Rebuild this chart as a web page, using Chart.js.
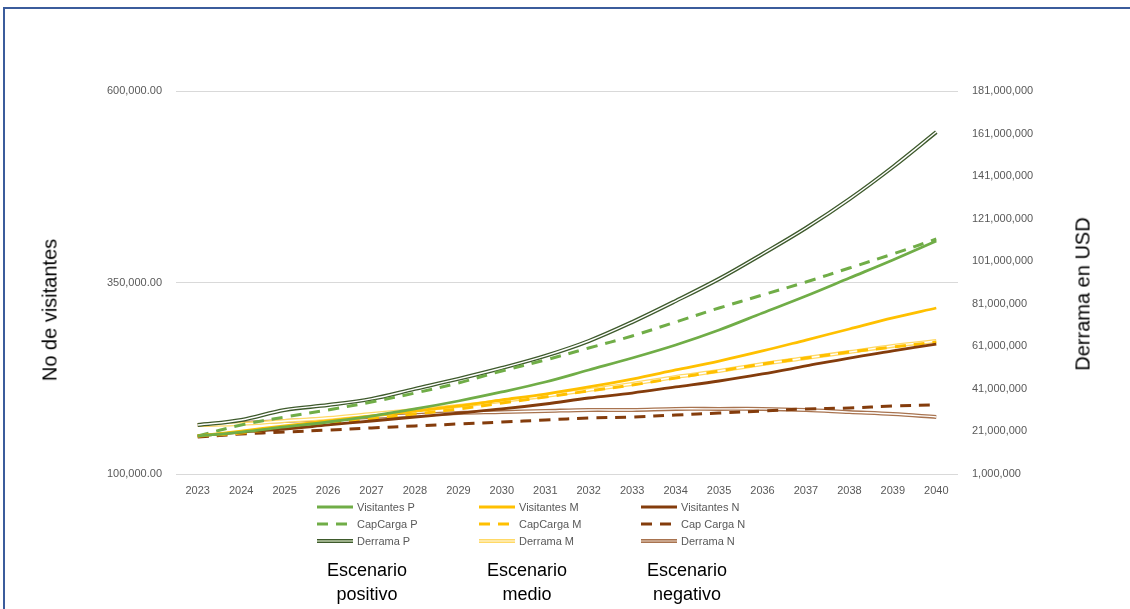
<!DOCTYPE html>
<html>
<head>
<meta charset="utf-8">
<script src="https://cdn.jsdelivr.net/npm/chart.js@4.4.1/dist/chart.umd.min.js"></script>
<style>
  body { margin: 0; background: #fff; font-family: "Liberation Sans", Arial, sans-serif; }
  #wrap { position: relative; width: 1130px; height: 609px; overflow: hidden; }
  #frame { position: absolute; left: 3px; top: 7px; width: 1200px; height: 700px;
           border-top: 2px solid #3B5C9C; border-left: 2px solid #3B5C9C; }
  canvas { position: absolute; left: 0; top: 0; }
  .ytitle { position: absolute; font-size: 20px; color: #000; white-space: nowrap;
            transform: translate(-50%, -50%) rotate(-90deg); }
  .scen { position: absolute; top: 558px; width: 140px; margin-left: -70px; text-align: center;
          font-size: 18px; line-height: 24px; color: #000; }
</style>
</head>
<body>
<div id="wrap">
  <div id="frame"></div>
  <canvas id="chart" width="1130" height="609"></canvas>
  <div class="ytitle" style="left:50px; top:310px;">No de visitantes</div>
  <div class="ytitle" style="left:1083px; top:294px;">Derrama en USD</div>
  <div class="scen" style="left:367px;">Escenario<br>positivo</div>
  <div class="scen" style="left:527px;">Escenario<br>medio</div>
  <div class="scen" style="left:687px;">Escenario<br>negativo</div>
</div>
<script>
const years = ['2023', '2024', '2025', '2026', '2027', '2028', '2029', '2030', '2031',
               '2032', '2033', '2034', '2035', '2036', '2037', '2038', '2039', '2040'];

// visitantes / capacidad de carga (eje izquierdo)
const visitantesP = [149600, 154800, 161400, 167900, 175700, 184900, 195300, 207100, 220100,
                     235800, 251400, 268400, 288000, 310200, 332400, 355900, 379400, 404200];
const capCargaP   = [149600, 164000, 174400, 183600, 194000, 205700, 218800, 234500, 248800,
                     264500, 280200, 298400, 316700, 333700, 350700, 368900, 387200, 406800];
const visitantesM = [149600, 156100, 162700, 169200, 175700, 182200, 188800, 196600, 204400,
                     213600, 224000, 235800, 247500, 260600, 274900, 289300, 303700, 316700];
const capCargaM   = [149600, 153500, 160100, 166600, 171800, 178300, 184900, 192700, 200500,
                     208400, 216200, 225300, 234500, 243600, 251400, 259300, 265800, 272300];
const visitantesN = [149600, 154800, 158700, 164000, 169200, 174400, 179600, 184900, 191400,
                     199200, 205700, 213600, 221400, 230600, 241000, 251400, 260600, 269700];
const capCargaN   = [148300, 152200, 154800, 157400, 160100, 162700, 165300, 167900, 170500,
                     173100, 174400, 177000, 179600, 182200, 184900, 186200, 188800, 190100];

// derrama en USD (eje derecho)
const derramaP = [24000000, 26400000, 31100000, 33400000, 36300000, 41000000, 45700000, 50800000, 56500000,
                  63500000, 72400000, 82300000, 92700000, 104400000, 116600000, 130200000, 145300000, 161700000];
const derramaM = [24000000, 24500000, 25900000, 27300000, 29200000, 31100000, 33000000, 35300000, 37700000,
                  40500000, 43300000, 46600000, 49400000, 52700000, 55500000, 58300000, 61200000, 63500000];
const derramaN = [24000000, 25000000, 25900000, 26900000, 27800000, 28700000, 29700000, 30100000, 30600000,
                  31100000, 31100000, 31600000, 31600000, 31600000, 31100000, 30100000, 29200000, 27800000];

const leftTicks = { min: 100000, max: 600000, step: 250000 };
const rightTicks = { min: 1000000, max: 181000000, step: 20000000 };

const GREEN = '#70AD47', YELLOW = '#FFC000', BROWN = '#843C0C';
const DASH = [11, 8];

function solid(label, data, color) {
    return { label: label, data: data, borderColor: color, borderWidth: 2.8, yAxisID: 'y' };
}
function dashed(label, data, color) {
    return { label: label, data: data, borderColor: color, borderWidth: 3, borderDash: DASH, yAxisID: 'y' };
}
function double(label, data, color, legendInner) {
    return { label: label, data: data, borderColor: color, borderWidth: 4, innerColor: '#ffffff',
             legendInner: legendInner, yAxisID: 'y1' };
}

// double (compound) line: white stroke on top of the coloured one
const doubleLine = {
    id: 'doubleLine',
    afterDatasetDraw(chart, args) {
        const ds = chart.data.datasets[args.index];
        if (!ds.innerColor) return;
        const el = args.meta.dataset, o = el.options;
        el.options = Object.assign({}, o, { borderColor: ds.innerColor, borderWidth: 1.4 });
        el.draw(chart.ctx, chart.chartArea);
        el.options = o;
    }
};

// legend in a 3 column grid under the axis
const gridLegend = {
    id: 'gridLegend',
    afterDraw(chart) {
        const ctx = chart.ctx, area = chart.chartArea;
        chart.data.datasets.forEach(function (ds, i) {
            const x = area.left + 141 + 162 * (i % 3);
            const y = area.bottom + 33 + 17 * Math.floor(i / 3);
            ctx.save();
            ctx.strokeStyle = ds.borderColor;
            ctx.lineWidth = ds.borderWidth;
            ctx.setLineDash(ds.borderDash || []);
            ctx.beginPath();
            ctx.moveTo(x, y);
            ctx.lineTo(x + 36, y);
            ctx.stroke();
            if (ds.innerColor) {
                ctx.strokeStyle = ds.legendInner || ds.innerColor;
                ctx.lineWidth = 2;
                ctx.stroke();
            }
            ctx.setLineDash([]);
            ctx.fillStyle = '#595959';
            ctx.font = '11px "Liberation Sans", Arial, sans-serif';
            ctx.textBaseline = 'middle';
            ctx.fillText(ds.label, x + 40, y + 0.5);
            ctx.restore();
        });
    }
};

const tickFont = { family: '"Liberation Sans", Arial, sans-serif', size: 11 };

new Chart(document.getElementById('chart'), {
    type: 'line',
    data: {
        labels: years,
        datasets: [
            solid('Visitantes P', visitantesP, GREEN),
            solid('Visitantes M', visitantesM, YELLOW),
            solid('Visitantes N', visitantesN, BROWN),
            dashed('CapCarga P', capCargaP, GREEN),
            dashed('CapCarga M', capCargaM, YELLOW),
            dashed('Cap Carga N', capCargaN, BROWN),
            double('Derrama P', derramaP, '#3E5A2C', '#9CB08A'),
            double('Derrama M', derramaM, '#FFD966', '#FFE9A6'),
            double('Derrama N', derramaN, '#A8734F', '#C9A48A')
        ]
    },
    options: {
        responsive: false,
        animation: false,
        layout: { padding: { top: 91, left: 0, right: 0, bottom: 0 } },
        elements: { point: { radius: 0 }, line: { tension: 0.35, borderCapStyle: 'butt' } },
        plugins: { legend: { display: false }, tooltip: { enabled: false } },
        scales: {
            x: {
                offset: true,
                grid: { display: false },
                border: { display: false },
                ticks: { color: '#595959', font: tickFont, padding: 2, maxRotation: 0, autoSkip: false },
                afterFit(scale) { scale.height = 135; }
            },
            y: {
                position: 'left',
                min: leftTicks.min,
                max: leftTicks.max,
                grid: { color: '#D9D9D9', drawTicks: false },
                border: { display: false },
                ticks: {
                    stepSize: leftTicks.step,
                    color: '#595959',
                    font: tickFont,
                    padding: 14,
                    callback: function (v) {
                        return v.toLocaleString('en-US', { minimumFractionDigits: 2, maximumFractionDigits: 2 });
                    }
                },
                afterFit(scale) { scale.width = 176; }
            },
            y1: {
                position: 'right',
                min: rightTicks.min,
                max: rightTicks.max,
                grid: { display: false, drawTicks: false },
                border: { display: false },
                ticks: {
                    stepSize: rightTicks.step,
                    color: '#595959',
                    font: tickFont,
                    padding: 14,
                    callback: function (v) { return v.toLocaleString('en-US'); }
                },
                afterFit(scale) { scale.width = 172; }
            }
        }
    },
    plugins: [doubleLine, gridLegend]
});
</script>
</body>
</html>
